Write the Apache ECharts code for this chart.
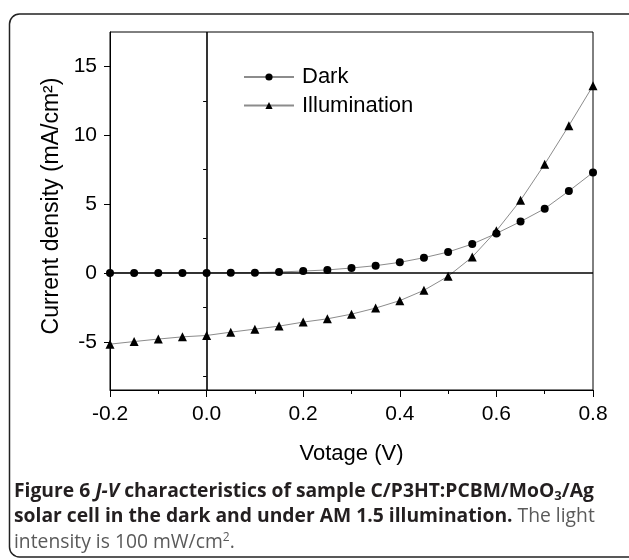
<!DOCTYPE html>
<html>
<head>
<meta charset="utf-8">
<script src="https://cdn.jsdelivr.net/npm/echarts@6/dist/echarts.min.js"></script>
<style>
html,body{margin:0;padding:0;background:#fff;}
#chart{width:629px;height:560px;}
</style>
</head>
<body>
<div id="chart"></div>
<script>
// ---- data ----
var voltage = [-0.2, -0.15, -0.1, -0.05, 0.0, 0.05, 0.1, 0.15, 0.2, 0.25, 0.3, 0.35, 0.4, 0.45, 0.5, 0.55, 0.6, 0.65, 0.7, 0.75, 0.8];
var darkJ = [0, 0, 0, 0, 0, 0.01, 0.02, 0.07, 0.14, 0.22, 0.36, 0.53, 0.77, 1.11, 1.52, 2.1, 2.87, 3.73, 4.67, 5.95, 7.3];
var illumJ = [-5.17, -4.98, -4.8, -4.64, -4.54, -4.3, -4.08, -3.86, -3.57, -3.33, -2.99, -2.55, -2.01, -1.26, -0.24, 1.16, 3.06, 5.28, 7.9, 10.7, 13.6];
var seriesNames = ['Dark', 'Illumination'];
var yMajorTicks = [-5, 0, 5, 10, 15];
var yMinorTicks = [-7.5, -2.5, 2.5, 7.5, 12.5];
var xAxisName = 'Votage (V)';
var yAxisName = 'Current density (mA/cm\u00B2)';

function pairs(xs, ys) { return xs.map(function (x, i) { return [x, ys[i]]; }); }

var chart = echarts.init(document.getElementById('chart'), null, {renderer: 'canvas'});
var AR = 'Liberation Sans';
var OS = 'Open Sans';

var option = {
  animation: false,
  backgroundColor: '#fff',
  grid: {left: 110, right: 36, top: 32, bottom: 170, show: true, borderColor: '#000', borderWidth: 1, backgroundColor: 'transparent'},
  legend: {
    orient: 'vertical', left: 243, top: 66, padding: 0, itemGap: 6.5,
    itemWidth: 50, itemHeight: 9,
    data: seriesNames,
    textStyle: {fontFamily: AR, fontSize: 22, color: '#000', padding: [0, 0, 0, 3]}
  },
  xAxis: {
    type: 'value', min: -0.2, max: 0.8, interval: 0.2,
    name: xAxisName, nameLocation: 'middle', nameGap: 53,
    nameTextStyle: {fontFamily: AR, fontSize: 22, color: '#000'},
    axisLine: {show: true, onZero: false, lineStyle: {color: '#000', width: 1}},
    axisTick: {show: true, inside: false, length: 7, lineStyle: {color: '#000', width: 1}},
    minorTick: {show: true, splitNumber: 2, length: 4, lineStyle: {color: '#000', width: 1}},
    axisLabel: {fontFamily: AR, fontSize: 21, color: '#000', margin: 14, formatter: function (v) { return v.toFixed(1); }},
    splitLine: {show: false}
  },
  yAxis: [{
    type: 'value', min: -8.5, max: 17.5,
    name: yAxisName, nameLocation: 'middle', nameGap: 47,
    nameTextStyle: {fontFamily: AR, fontSize: 23, color: '#000', padding: [0, 0, 0, 10]},
    axisLine: {show: true, onZero: false, lineStyle: {color: '#000', width: 1}},
    axisTick: {show: true, inside: false, length: 6, customValues: yMajorTicks, lineStyle: {color: '#000', width: 1}},
    axisLabel: {fontFamily: AR, fontSize: 21, color: '#000', margin: 13, customValues: yMajorTicks},
    splitLine: {show: false}
  }, {
    type: 'value', min: -8.5, max: 17.5, position: 'left',
    axisLine: {show: false},
    axisTick: {show: true, inside: false, length: 3.5, customValues: yMinorTicks, lineStyle: {color: '#000', width: 1}},
    axisLabel: {show: false},
    splitLine: {show: false}
  }],
  series: [{
    type: 'line', name: 'zero', data: [], z: 1, silent: true,
    markLine: {
      silent: true, symbol: ['none', 'none'], label: {show: false},
      lineStyle: {color: '#000', width: 1.6, type: 'solid'},
      emphasis: {disabled: true},
      data: [{xAxis: 0}, {yAxis: 0}]
    }
  }, {
    type: 'line', name: seriesNames[0], data: pairs(voltage, darkJ), z: 3,
    symbol: 'circle', symbolSize: 8, showAllSymbol: true,
    itemStyle: {color: '#000'},
    lineStyle: {color: '#8c8c8c', width: 1}
  }, {
    type: 'line', name: seriesNames[1], data: pairs(voltage, illumJ), z: 3,
    symbol: 'triangle', symbolSize: 9, showAllSymbol: true,
    itemStyle: {color: '#000'},
    lineStyle: {color: '#8c8c8c', width: 1}
  }],
  graphic: [{
    type: 'rect', silent: true, z: -1,
    shape: {x: 9.5, y: 14, width: 640, height: 543, r: 10},
    style: {fill: 'none', stroke: '#222', lineWidth: 1.5}
  }, {
    type: 'text', left: 14, top: 482, silent: true,
    style: {
      text: '{b|Figure 6 }{bi|J-V}{b| characteristics of sample C/P3HT:PCBM/MoO}{bsub|3}{b|/Ag}\n' +
            '{b|solar cell in the dark and under AM 1.5 illumination.}{r| The light}\n' +
            '{r|intensity is 100 mW/cm}{rsup|2}{r|.}',
      rich: {
        b: {fontFamily: OS, fontWeight: 'bold', fontSize: 19.3, lineHeight: 25.5, fill: '#231f20'},
        bi: {fontFamily: OS, fontWeight: 'bold', fontStyle: 'italic', fontSize: 19.3, lineHeight: 25.5, fill: '#231f20'},
        bsub: {fontFamily: OS, fontWeight: 'bold', fontSize: 13, lineHeight: 13, verticalAlign: 'bottom', padding: [0, 0, 1, 0], fill: '#231f20'},
        r: {fontFamily: OS, fontSize: 19.3, lineHeight: 25.5, fill: '#5a5a5a'},
        rsup: {fontFamily: OS, fontSize: 12, lineHeight: 12, verticalAlign: 'top', padding: [2, 0, 0, 0], fill: '#5a5a5a'}
      }
    }
  }]
};
chart.setOption(option);
</script>
</body>
</html>
